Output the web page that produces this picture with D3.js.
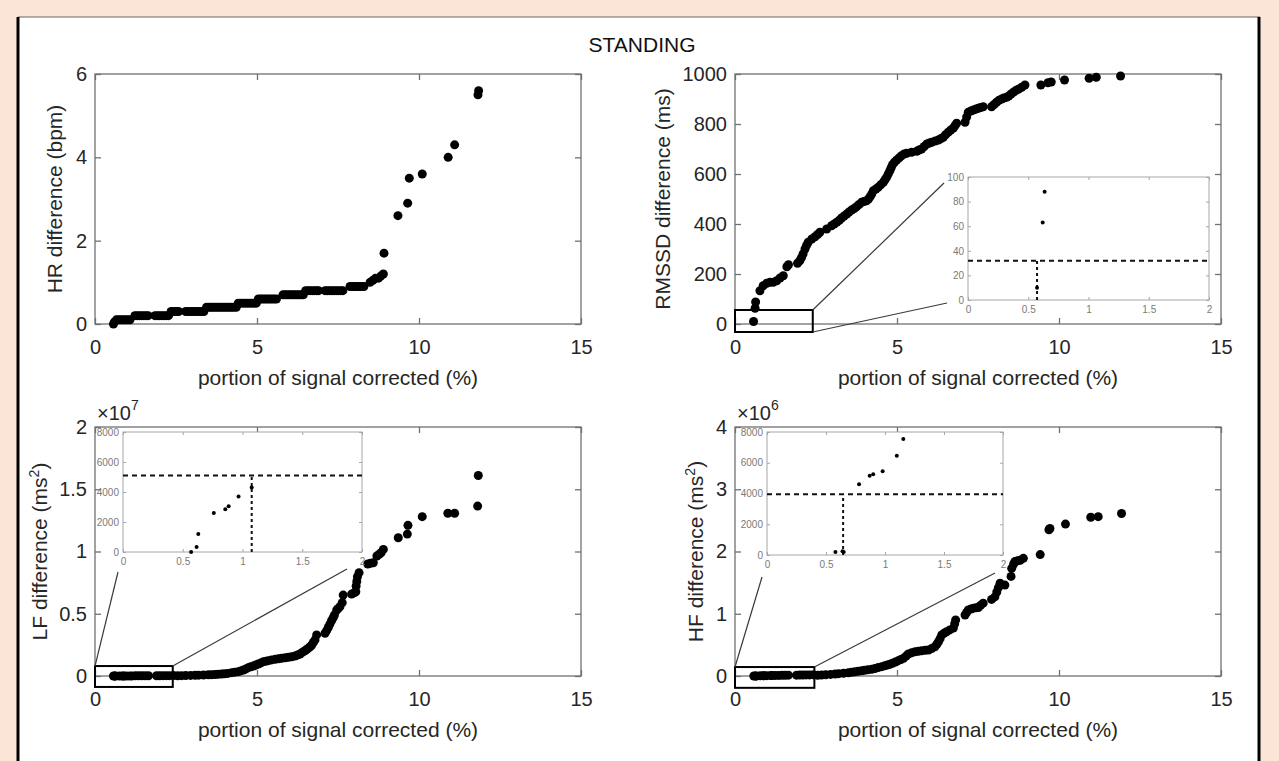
<!DOCTYPE html>
<html>
<head>
<meta charset="utf-8">
<script src="https://cdn.jsdelivr.net/npm/d3@7"></script>
<style>
body { margin: 0; background: #fbe5d6; }
svg { display: block; }
text { font-family: "Liberation Sans", Arial, sans-serif; }
</style>
</head>
<body>
<svg id="fig" width="1279" height="761"></svg>
<script>
// ---- data ----
const xTicks = [0, 5, 10, 15];
const insetXTicks = [0, 0.5, 1, 1.5, 2];
const hrTicks = [0, 2, 4, 6];
const rmssdTicks = [0, 200, 400, 600, 800, 1000];
const lfTicks = [0, 0.5e7, 1e7, 1.5e7, 2e7];
const hfTicks = [0, 1e6, 2e6, 3e6, 4e6];
const rmssdInsetTicks = [0, 20, 40, 60, 80, 100];
const powerInsetTicks = [0, 2000, 4000, 6000, 8000];

// HR difference (bpm) vs portion corrected (%)
const hr = [
  [0.57,0],[0.6,0.05],[0.66,0.1],[0.73,0.1],[0.8,0.1],[0.87,0.1],[0.94,0.1],[1.01,0.1],[1.08,0.1],
  [1.23,0.2],[1.3,0.2],[1.37,0.2],[1.44,0.2],[1.51,0.2],[1.58,0.2],[1.64,0.2],
  [1.85,0.2],[1.92,0.2],[1.99,0.2],[2.06,0.2],[2.13,0.2],[2.2,0.2],[2.27,0.2],
  [2.35,0.3],[2.42,0.3],[2.5,0.3],[2.58,0.3],
  [2.8,0.3],[2.88,0.3],[2.96,0.3],[3.04,0.3],[3.12,0.3],[3.2,0.3],[3.28,0.3],[3.36,0.3],
  [3.44,0.4],[3.51,0.4],[3.58,0.4],[3.65,0.4],[3.72,0.4],[3.79,0.4],[3.86,0.4],[3.93,0.4],[4.0,0.4],[4.07,0.4],[4.14,0.4],[4.21,0.4],[4.28,0.4],[4.36,0.4],
  [4.42,0.5],[4.49,0.5],[4.56,0.5],[4.63,0.5],[4.7,0.5],[4.77,0.5],[4.84,0.5],[4.91,0.5],[4.98,0.5],
  [5.04,0.6],[5.11,0.6],[5.18,0.6],[5.25,0.6],[5.32,0.6],[5.39,0.6],[5.46,0.6],[5.53,0.6],[5.6,0.6],
  [5.8,0.7],[5.87,0.7],[5.94,0.7],[6.01,0.7],[6.08,0.7],[6.15,0.7],[6.22,0.7],[6.29,0.7],[6.36,0.7],[6.43,0.7],
  [6.5,0.8],[6.57,0.8],[6.64,0.8],[6.71,0.8],[6.78,0.8],[6.85,0.8],[6.9,0.8],
  [7.1,0.8],[7.17,0.8],[7.24,0.8],[7.31,0.8],[7.38,0.8],[7.45,0.8],[7.52,0.8],[7.59,0.8],[7.65,0.8],
  [7.87,0.9],[7.94,0.9],[8.01,0.9],[8.08,0.9],[8.15,0.9],[8.22,0.9],[8.3,0.9],
  [8.49,1.0],[8.58,1.05],[8.66,1.1],[8.75,1.1],[8.82,1.15],[8.9,1.2],
  [8.92,1.7],[9.35,2.6],[9.65,2.9],[9.7,3.5],[10.1,3.6],[10.9,4.0],[11.1,4.3],[11.82,5.5],[11.84,5.6]
];

// RMSSD difference (ms)
const rmssd = [
  [0.573,10],[0.62,63],[0.636,88],[0.77,133],[0.87,153],[0.98,163],[1.08,167],[1.18,167],[1.29,173],[1.39,184],[1.49,193],
  [1.6,229],[1.65,237],[1.93,243],[2.0,253],[2.05,265],[2.1,280],[2.16,300],[2.21,315],[2.26,327],[2.37,340],[2.47,349],[2.55,358],[2.62,367],
  [2.83,380],[2.98,393],[3.06,400],[3.14,407],[3.22,415],[3.29,424],[3.37,432],[3.45,440],[3.52,448],[3.6,456],[3.68,462],[3.75,469],
  [3.83,478],[3.91,487],[3.98,490],[4.06,493],[4.12,500],[4.17,509],[4.22,520],[4.27,533],[4.35,540],[4.42,547],[4.5,557],[4.58,567],
  [4.63,577],[4.68,587],[4.73,600],[4.78,613],[4.82,625],[4.86,637],[4.92,647],[4.99,656],[5.07,665],[5.14,673],[5.22,680],[5.3,683],
  [5.45,687],[5.61,691],[5.68,696],[5.76,700],[5.84,710],[5.92,720],[6.0,724],[6.07,727],[6.18,732],[6.28,736],[6.36,742],[6.43,747],
  [6.5,757],[6.58,767],[6.66,776],[6.74,784],[6.79,793],[6.84,803],[7.1,807],[7.15,828],[7.2,847],[7.28,852],[7.36,856],[7.44,860],
  [7.51,863],[7.58,866],[7.66,869],[7.92,869],[8.0,878],[8.07,887],[8.15,895],[8.23,900],[8.3,904],[8.38,907],[8.45,912],[8.52,920],
  [8.6,928],[8.68,935],[8.76,940],[8.85,947],[8.95,956],[9.44,956],[9.66,965],[9.76,968],[10.17,976],[10.93,983],[11.15,987],[11.9,992]
];

// LF difference (ms^2)
const lf = [
  [0.57,0],[0.616,330],[0.63,1200],[0.76,2600],[0.856,2850],[0.884,3050],[0.967,3700],[1.077,4300],
  [1.15,9000],[1.25,11000],[1.35,13000],[1.45,15000],[1.55,17000],[1.65,19000],
  [1.9,22000],[2.0,24000],[2.1,26000],[2.2,28000],[2.3,30000],[2.42,32000],
  [2.55,20000],[2.67,30000],[2.8,40000],[2.95,50000],[3.09,60000],[3.2,70000],[3.35,80000],[3.5,100000],[3.6,110000],[3.7,120000],
  [3.8,140000],[3.91,160000],[4.0,180000],[4.1,210000],[4.22,270000],[4.32,310000],[4.42,350000],[4.5,410000],[4.58,480000],[4.66,570000],
  [4.73,670000],[4.81,740000],[4.89,800000],[4.96,880000],[5.04,960000],[5.12,1050000],[5.2,1150000],[5.28,1190000],[5.35,1230000],[5.45,1290000],
  [5.56,1340000],[5.66,1380000],[5.76,1420000],[5.87,1460000],[5.97,1500000],[6.07,1550000],[6.17,1600000],[6.25,1680000],[6.33,1770000],[6.4,1900000],
  [6.48,2030000],[6.53,2120000],[6.58,2220000],[6.64,2350000],[6.69,2490000],[6.74,2700000],[6.79,2900000],[6.84,3300000],[7.1,3430000],[7.15,3650000],
  [7.2,3900000],[7.25,4170000],[7.3,4440000],[7.35,4680000],[7.39,4900000],[7.46,5300000],[7.51,5430000],[7.56,5570000],[7.63,5890000],[7.66,6500000],
  [7.92,6580000],[8.0,6680000],[8.05,6770000],[8.06,7230000],[8.08,7600000],[8.1,7970000],[8.15,8300000],[8.42,9000000],[8.5,9050000],[8.59,9100000],
  [8.7,9640000],[8.77,9770000],[8.83,9900000],[8.9,10170000],[9.36,11100000],[9.64,11400000],[9.66,12100000],[10.1,12800000],[10.89,13070000],[11.1,13070000],
  [11.81,13650000],[11.83,16100000]
];

// HF difference (ms^2)
const hf = [
  [0.58,200],[0.64,250],[0.65,200],[0.78,4600],[0.87,5150],[0.9,5250],[0.98,5450],[1.1,6450],[1.155,7550],
  [1.25,9000],[1.35,10000],[1.45,11000],[1.55,12000],[1.65,13000],
  [1.9,14000],[2.0,15000],[2.1,16000],[2.2,17000],[2.3,18000],[2.42,19000],
  [2.55,12000],[2.67,16000],[2.8,20000],[2.95,26000],[3.09,32000],[3.2,38000],[3.35,45000],[3.5,53000],[3.6,60000],[3.7,67000],
  [3.8,75000],[3.91,85000],[4.0,92000],[4.1,99000],[4.22,107000],[4.32,120000],[4.42,135000],[4.53,150000],[4.62,163000],[4.7,175000],
  [4.78,188000],[4.86,205000],[4.95,225000],[5.04,246000],[5.12,265000],[5.2,284000],[5.28,320000],[5.35,353000],[5.45,372000],[5.56,390000],
  [5.66,398000],[5.76,406000],[5.87,412000],[5.97,418000],[6.07,440000],[6.17,470000],[6.23,510000],[6.28,550000],[6.33,600000],[6.38,660000],
  [6.45,685000],[6.53,710000],[6.63,740000],[6.74,770000],[6.78,840000],[6.81,900000],[7.1,980000],[7.15,1020000],[7.2,1060000],[7.28,1075000],
  [7.36,1090000],[7.44,1095000],[7.51,1100000],[7.58,1135000],[7.66,1170000],[7.92,1230000],[8.02,1270000],[8.08,1350000],[8.13,1420000],[8.18,1490000],
  [8.33,1460000],[8.52,1600000],[8.54,1730000],[8.6,1800000],[8.64,1840000],[8.72,1850000],[8.8,1860000],[8.9,1890000],[9.42,1950000],[9.69,2350000],
  [9.72,2370000],[10.2,2440000],[10.98,2550000],[11.21,2560000],[11.93,2610000]
];

// ---- drawing ----
const svg = d3.select("#fig");
const AX = "#707070", LBL = "#262626";

// figure frame
svg.append("rect").attr("x", 18).attr("y", 17).attr("width", 1242).attr("height", 750).attr("fill", "#fff");
svg.append("line").attr("x1", 18).attr("x2", 1260).attr("y1", 17).attr("y2", 17).attr("stroke", "#666").attr("stroke-width", 1);
svg.append("line").attr("x1", 18).attr("x2", 18).attr("y1", 17).attr("y2", 761).attr("stroke", "#000").attr("stroke-width", 3);
svg.append("line").attr("x1", 1259).attr("x2", 1259).attr("y1", 17).attr("y2", 761).attr("stroke", "#000").attr("stroke-width", 3);

svg.append("text").attr("x", 642).attr("y", 52).attr("text-anchor", "middle")
  .attr("font-size", 21).attr("fill", "#111").text("STANDING");

function axesBox(g, x, y, o) {
  const [x0, x1] = x.range(), [y0, y1] = y.range();
  g.append("rect").attr("x", x0).attr("y", y1).attr("width", x1 - x0).attr("height", y0 - y1)
    .attr("fill", "#fff").attr("stroke", o.stroke).attr("stroke-width", o.sw);

  const bottom = g.append("g").attr("transform", "translate(0," + y0 + ")")
    .call(d3.axisBottom(x).tickValues(o.xt).tickSizeInner(-o.tick).tickSizeOuter(0).tickPadding(o.xpad).tickFormat(o.xf));
  const top = g.append("g").attr("transform", "translate(0," + y1 + ")")
    .call(d3.axisTop(x).tickValues(o.xt).tickSizeInner(-o.tick).tickSizeOuter(0).tickFormat(""));
  const left = g.append("g").attr("transform", "translate(" + x0 + ",0)")
    .call(d3.axisLeft(y).tickValues(o.yt).tickSizeInner(-o.tick).tickSizeOuter(0).tickPadding(o.ypad).tickFormat(o.yf));
  const right = g.append("g").attr("transform", "translate(" + x1 + ",0)")
    .call(d3.axisRight(y).tickValues(o.yt).tickSizeInner(-o.tick).tickSizeOuter(0).tickFormat(""));
  [bottom, top, left, right].forEach(a => {
    a.select(".domain").remove();
    a.selectAll("line").attr("stroke", o.stroke).attr("stroke-width", o.sw);
    a.selectAll("text").attr("font-size", o.fs).attr("fill", o.fill).attr("font-family", '"Liberation Sans", Arial, sans-serif');
  });
}

const num = d => String(+d.toFixed(2));

function panel(c) {
  const g = svg.append("g");
  const x = d3.scaleLinear().domain([0, 15]).range([c.left, c.left + 486]);
  const y = d3.scaleLinear().domain(c.yDomain).range([c.bottom, c.top]);

  axesBox(g, x, y, { stroke: AX, sw: 1.3, tick: 6, xt: xTicks, yt: c.yTicks, xpad: 16, ypad: 8,
    xf: num, yf: c.yf, fs: 20, fill: LBL });

  g.append("g").selectAll("circle").data(c.data).enter().append("circle")
    .attr("cx", d => x(d[0])).attr("cy", d => y(d[1])).attr("r", 4.5).attr("fill", "#000");

  // x label
  g.append("text").attr("x", c.left + 243).attr("y", c.bottom + 61).attr("text-anchor", "middle")
    .attr("font-size", 21).attr("fill", LBL).text("portion of signal corrected (%)");
  // y label
  const yl = g.append("text").attr("transform", "translate(" + c.ylx + "," + (c.top + c.bottom) / 2 + ") rotate(-90)")
    .attr("text-anchor", "middle").attr("font-size", 21).attr("fill", LBL);
  if (c.sup) {
    yl.append("tspan").text(c.ylabel);
    yl.append("tspan").attr("dy", -8).attr("font-size", 14).text("2");
    yl.append("tspan").attr("dy", 8).text(")");
  } else {
    yl.text(c.ylabel);
  }
  // exponent
  if (c.exp) {
    const t = g.append("text").attr("x", c.left + 2).attr("y", c.top - 7).attr("font-size", 20).attr("fill", LBL);
    t.append("tspan").text("\u00d710");
    t.append("tspan").attr("dy", -10).attr("font-size", 14).text(c.exp);
  }

  if (!c.inset) return;
  const z = c.zoom, s = c.inset;
  const zx0 = x(z.x[0]), zx1 = x(z.x[1]), zy0 = y(z.y[0]), zy1 = y(z.y[1]);
  g.append("rect").attr("x", zx0).attr("y", zy1).attr("width", zx1 - zx0).attr("height", zy0 - zy1)
    .attr("fill", "none").attr("stroke", "#000").attr("stroke-width", 2);
  // connector lines from zoom box to inset
  c.links.forEach(l => {
    g.append("line").attr("x1", l[0] ? zx1 : zx0).attr("y1", l[1] ? zy0 : zy1)
      .attr("x2", l[2]).attr("y2", l[3]).attr("stroke", "#3a3a3a").attr("stroke-width", 1.2);
  });

  const ix = d3.scaleLinear().domain([0, 2]).range([s.x0, s.x1]);
  const iy = d3.scaleLinear().domain(s.yDomain).range([s.y1, s.y0]);
  axesBox(g, ix, iy, { stroke: "#a6a6a6", sw: 1, tick: 3, xt: insetXTicks, yt: s.yTicks, xpad: 6, ypad: 4,
    xf: num, yf: num, fs: 10, fill: "#7a7a7a" });

  g.append("line").attr("x1", s.x0).attr("x2", s.x1).attr("y1", iy(s.level)).attr("y2", iy(s.level))
    .attr("stroke", "#111").attr("stroke-width", 2).attr("stroke-dasharray", "5,4");
  g.append("line").attr("x1", ix(s.cut)).attr("x2", ix(s.cut)).attr("y1", iy(0)).attr("y2", iy(s.level))
    .attr("stroke", "#111").attr("stroke-width", 2).attr("stroke-dasharray", "3,3");
  g.append("g").selectAll("circle").data(c.data.filter(d => d[0] <= 2 && d[1] <= s.yDomain[1])).enter().append("circle")
    .attr("cx", d => ix(d[0])).attr("cy", d => iy(d[1])).attr("r", 2).attr("fill", "#000");
}

panel({ left: 95, top: 74, bottom: 324, yDomain: [0, 6], yTicks: hrTicks, yf: num, data: hr,
  ylx: 62, ylabel: "HR difference (bpm)" });

panel({ left: 735, top: 74, bottom: 324, yDomain: [0, 1000], yTicks: rmssdTicks, yf: num, data: rmssd,
  ylx: 670, ylabel: "RMSSD difference (ms)",
  zoom: { x: [0, 2.4], y: [-32, 56] },
  inset: { x0: 968, x1: 1209, y0: 177, y1: 300, yDomain: [0, 100], yTicks: rmssdInsetTicks, level: 32, cut: 0.573 },
  links: [[1, 0, 944, 183], [1, 1, 947, 303]] });

panel({ left: 95, top: 427, bottom: 676, yDomain: [0, 2e7], yTicks: lfTicks, yf: d => num(d / 1e7), data: lf,
  ylx: 47, ylabel: "LF difference (ms", sup: true, exp: "7",
  zoom: { x: [0, 2.4], y: [-0.88e6, 0.8e6] },
  inset: { x0: 123, x1: 362, y0: 432, y1: 552, yDomain: [0, 8000], yTicks: powerInsetTicks, level: 5100, cut: 1.077 },
  links: [[0, 0, 118, 572], [1, 0, 347, 569]] });

panel({ left: 735, top: 427, bottom: 676, yDomain: [0, 4e6], yTicks: hfTicks, yf: d => num(d / 1e6), data: hf,
  ylx: 703, ylabel: "HF difference (ms", sup: true, exp: "6",
  zoom: { x: [0, 2.45], y: [-0.19e6, 0.144e6] },
  inset: { x0: 767, x1: 1003, y0: 432, y1: 555, yDomain: [0, 8000], yTicks: powerInsetTicks, level: 3950, cut: 0.645 },
  links: [[0, 0, 762, 577], [1, 0, 995, 573]] });
</script>
</body>
</html>
